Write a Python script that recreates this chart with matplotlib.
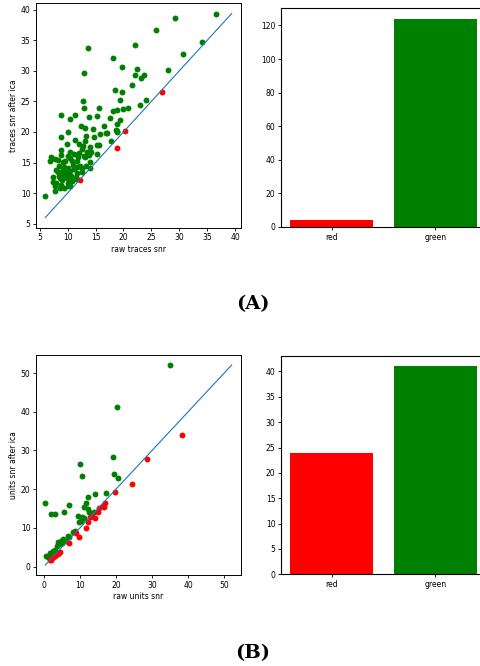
import matplotlib
matplotlib.use("Agg")
import matplotlib.pyplot as plt
import numpy as np

plt.rcParams["mathtext.fontset"] = "cm"

# ---- traces: SNR before / after ICA ----
traces_green_raw = [
    36.5, 29.25, 25.8, 13.6, 22.0, 34.0, 18.1, 30.6, 13.0, 19.8, 22.4, 27.9, 22.0, 23.7,
    23.2, 21.6, 18.4, 19.8, 8.9, 22.9, 24.1, 19.4, 12.7, 13.0, 15.6, 18.2, 18.8, 19.9,
    20.9, 10.5, 11.4, 13.8, 15.3, 17.6, 16.6, 12.4, 13.1, 18.8, 19.4, 14.6, 10.1, 18.6,
    18.9, 16.9, 15.8, 17.1, 18.8, 8.8, 13.3, 14.8, 11.4, 17.7, 12.1, 9.9, 13.2, 15.2,
    14.0, 12.6, 8.8, 10.5, 13.4, 12.1, 13.8, 15.2, 12.9, 6.8, 7.1, 7.8, 8.3, 8.8,
    9.6, 10.5, 11.6, 11.0, 8.5, 9.4, 10.1, 8.0, 9.0, 10.5, 11.1, 11.6, 12.5, 13.3,
    14.0, 14.0, 12.6, 8.5, 9.4, 9.8, 10.6, 7.3, 7.4, 9.0, 7.9, 8.8, 10.0, 10.5,
    9.4, 8.6, 7.8, 10.0, 10.8, 11.5, 6.0, 12.2, 11.7, 9.6, 8.6, 9.2, 10.0, 10.8,
    11.8, 13.2, 14.2, 15.7, 12.8, 11.2, 9.2, 8.2, 9.8, 11.5, 10.4, 7.7,
]
traces_green_ica = [
    39.4, 38.7, 36.7, 33.7, 34.3, 34.8, 32.1, 32.7, 29.6, 30.6, 30.3, 30.1, 29.4, 29.4,
    28.9, 27.7, 26.8, 26.5, 22.8, 24.5, 25.2, 25.2, 25.0, 23.9, 23.9, 23.5, 23.6, 23.8,
    23.9, 22.2, 22.8, 22.5, 22.6, 22.3, 20.9, 20.9, 20.7, 21.3, 22.0, 20.5, 20.0, 20.4,
    20.2, 19.9, 19.7, 19.9, 20.0, 19.1, 19.4, 19.1, 18.7, 18.6, 18.1, 18.1, 18.6, 17.8,
    17.5, 17.2, 17.0, 16.8, 16.7, 16.5, 16.3, 16.4, 16.0, 15.3, 15.9, 15.6, 15.4, 16.2,
    15.2, 15.8, 15.2, 14.6, 14.5, 14.3, 14.1, 13.8, 13.4, 13.6, 13.9, 13.3, 14.1, 14.5,
    15.1, 14.1, 13.5, 12.8, 13.0, 12.4, 12.8, 12.6, 11.8, 12.1, 11.6, 11.3, 11.6, 11.8,
    10.8, 10.8, 10.4, 11.2, 11.9, 12.3, 9.5, 14.5, 14.2, 13.4, 12.4, 15.1, 16.0, 15.2,
    15.9, 15.9, 16.8, 17.9, 17.7, 16.4, 14.0, 13.4, 13.2, 12.7, 11.2, 11.2,
]
traces_red_raw = [12.2, 18.8, 20.3, 27.0]
traces_red_ica = [12.1, 17.3, 20.2, 26.6]

# ---- units: SNR before / after ICA ----
units_green_raw = [
    35.0, 20.4, 10.0, 10.5, 19.2, 19.4, 20.7, 0.4, 7.1, 5.5, 1.9, 3.2, 14.3, 17.3,
    12.3, 11.6, 11.2, 12.3, 12.5, 9.6, 10.5, 11.1, 10.3, 14.0, 8.6, 8.1, 6.6, 5.3,
    4.7, 3.6, 4.2, 6.0, 1.6, 0.6, 1.1, 2.5, 3.1, 7.1, 9.7, 4.0, 5.1,
]
units_green_ica = [
    52.1, 41.2, 26.5, 23.5, 28.2, 23.9, 22.8, 16.3, 15.8, 14.2, 13.5, 13.5, 18.8, 18.9,
    17.9, 16.5, 15.3, 14.8, 14.2, 13.1, 12.7, 12.5, 11.8, 14.2, 9.3, 8.9, 7.8, 7.1,
    6.6, 5.4, 5.8, 6.6, 3.5, 2.6, 2.4, 3.9, 4.3, 7.6, 11.5, 6.4, 6.1,
]
units_red_raw = [
    38.2, 28.7, 24.4, 19.8, 16.9, 16.8, 15.3, 14.9, 14.2, 12.7, 12.2, 11.8,
    9.7, 8.8, 7.1, 4.5, 3.2, 2.5, 1.9, 1.6, 2.3, 13.3, 4.0, 16.4,
]
units_red_ica = [
    33.9, 27.9, 21.4, 19.3, 16.3, 15.3, 15.1, 14.1, 12.5, 12.7, 11.5, 9.9,
    7.7, 8.7, 6.2, 3.8, 2.8, 2.4, 1.7, 1.6, 2.1, 13.0, 3.3, 15.6,
]

bar_labels = ["red", "green"]
traces_counts = [4, 124]
units_counts = [24, 41]

W, H = 481, 666
fig = plt.figure(figsize=(W / 100, H / 100), dpi=100)


def box(l, t, r, b):
    return [l / W, 1 - b / H, (r - l) / W, (b - t) / H]


FS = 5.5


def scatter_panel(ax, g_raw, g_ica, r_raw, r_ica, xlabel, ylabel):
    ax.scatter(g_raw, g_ica, s=18, color="green", linewidths=0, zorder=2)
    ax.scatter(r_raw, r_ica, s=18, color="red", linewidths=0, zorder=2)
    vals = np.concatenate([g_raw, g_ica, r_raw, r_ica])
    lo, hi = vals.min(), vals.max()
    ax.plot([lo, hi], [lo, hi], color="#1f77b4", lw=0.8, zorder=3)
    ax.set_xlabel(xlabel, fontsize=FS, labelpad=2)
    ax.set_ylabel(ylabel, fontsize=FS, labelpad=2)
    ax.tick_params(labelsize=FS, length=2.5, width=0.6, pad=1.5)
    for s in ax.spines.values():
        s.set_linewidth(0.7)


def bar_panel(ax, counts):
    ax.bar(bar_labels, counts, color=["red", "green"], width=0.8)
    ax.tick_params(labelsize=FS, length=2.5, width=0.6, pad=1.5)
    for s in ax.spines.values():
        s.set_linewidth(0.8)


ax1 = fig.add_axes(box(36, 3.3, 241, 227.7))
scatter_panel(ax1, traces_green_raw, traces_green_ica, traces_red_raw, traces_red_ica,
              "raw traces snr", "traces snr after ica")
ax1.set_xticks([5, 10, 15, 20, 25, 30, 35, 40])
ax1.set_yticks([5, 10, 15, 20, 25, 30, 35, 40])

ax2 = fig.add_axes(box(281, 8.3, 486, 227))
bar_panel(ax2, traces_counts)

ax3 = fig.add_axes(box(36, 355, 241, 575))
scatter_panel(ax3, units_green_raw, units_green_ica, units_red_raw, units_red_ica,
              "raw units snr", "units snr after ica")

ax4 = fig.add_axes(box(281, 356, 486, 574.3))
bar_panel(ax4, units_counts)

fig.text(253 / W, 1 - 304 / H, "(A)", ha="center", va="center", fontsize=14,
         family="DejaVu Serif", fontweight="bold")
fig.text(253 / W, 1 - 653 / H, "(B)", ha="center", va="center", fontsize=14,
         family="DejaVu Serif", fontweight="bold")

fig.savefig("out.png", dpi=100)
